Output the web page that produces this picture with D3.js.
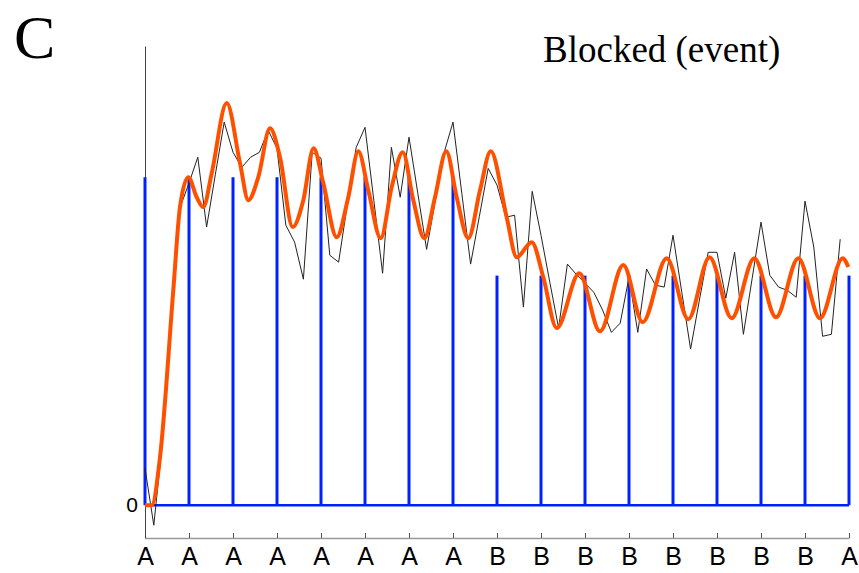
<!DOCTYPE html>
<html>
<head>
<meta charset="utf-8">
<script src="https://cdn.jsdelivr.net/npm/d3@7"></script>
<style>
  body { margin: 0; background: #fff; }
  svg { display: block; }
</style>
</head>
<body>
<div id="chart"></div>
<script>
const width = 859;
const height = 573;

// trial labels along the x axis
const tickLabels = ["A", "A", "A", "A", "A", "A", "A", "A", "B", "B", "B", "B", "B", "B", "B", "B", "A"];
// event stems, one per trial
const stemValues = [1, 1, 1, 1, 1, 1, 1, 1, 0.7, 0.7, 0.7, 0.7, 0.7, 0.7, 0.7, 0.7, 0.7];
// raw response, 5 samples per trial
const rawValues = [
  0.113, -0.061, 0.198, 0.573, 0.909, 0.982, 1.061, 0.848, 1.009, 1.168,
  1.076, 1.030, 1.061, 1.076, 1.143, 1.088, 0.854, 0.802, 0.689, 1.076,
  1.058, 0.762, 0.741, 0.918, 1.091, 1.152, 0.930, 0.707, 1.091, 0.939,
  1.122, 0.951, 0.780, 0.930, 1.076, 1.168, 0.951, 0.735, 0.881, 1.027,
  0.976, 0.878, 0.884, 0.604, 0.957, 0.823, 0.680, 0.540, 0.735, 0.704,
  0.677, 0.649, 0.595, 0.527, 0.555, 0.695, 0.527, 0.720, 0.671, 0.665,
  0.823, 0.649, 0.476, 0.625, 0.771, 0.771, 0.631, 0.771, 0.521, 0.692,
  0.863, 0.701, 0.665, 0.655, 0.634, 0.927, 0.787, 0.515, 0.521, 0.811
];
// fitted (smooth) response: trial position and value
const fitT = [
  0, 0.152, 0.341, 0.643, 0.795, 0.984, 1.175, 1.325, 1.516, 1.857,
  2.159, 2.348, 2.575, 2.841, 3.068, 3.357, 3.598, 3.830, 4.052, 4.357,
  4.620, 4.848, 5.075, 5.357, 5.607, 5.857, 6.098, 6.348, 6.591, 6.848,
  7.084, 7.348, 7.614, 7.857, 8.220, 8.448, 8.789, 9.052, 9.357, 9.870,
  10.341, 10.870, 11.311, 11.857, 12.348, 12.830, 13.334, 13.848, 14.341, 14.848,
  15.341, 15.857, 15.984
];
const fitValues = [
  0, 0, 0.146, 0.655, 0.909, 1.0, 0.939, 0.909, 1.012, 1.226,
  1.043, 0.930, 1.0, 1.149, 1.061, 0.848, 0.930, 1.088, 0.982, 0.817,
  0.939, 1.079, 0.960, 0.814, 0.970, 1.076, 0.930, 0.814, 0.939, 1.079,
  0.939, 0.814, 0.960, 1.079, 0.878, 0.756, 0.802, 0.695, 0.540, 0.707,
  0.530, 0.732, 0.558, 0.753, 0.567, 0.756, 0.570, 0.753, 0.573, 0.753,
  0.570, 0.753, 0.726
];

const svg = d3.select("#chart")
  .append("svg")
  .attr("width", width)
  .attr("height", height);

const x = d3.scaleLinear().domain([0, 16]).range([145, 849]);
const y = d3.scaleLinear().domain([-0.1, 1.4]).range([538, 46]);

// Panel letter and title
svg.append("text")
  .attr("x", 14)
  .attr("y", 58)
  .style("font-family", "'Liberation Serif', 'Times New Roman', serif")
  .style("font-size", "62px")
  .text("C");

svg.append("text")
  .attr("x", 543)
  .attr("y", 62)
  .style("font-family", "'Liberation Serif', 'Times New Roman', serif")
  .style("font-size", "37px")
  .text("Blocked (event)");

// Bottom axis
const xAxis = svg.append("g")
  .attr("transform", `translate(0,${y(-0.1)})`)
  .call(d3.axisBottom(x)
    .tickValues(d3.range(tickLabels.length))
    .tickFormat((d, i) => tickLabels[i])
    .tickSizeInner(-5)
    .tickSizeOuter(0)
    .tickPadding(9));
xAxis.select(".domain").attr("stroke", "#999").attr("stroke-width", 1.5);
xAxis.selectAll(".tick line").attr("stroke", "#555");
xAxis.selectAll("text")
  .style("font-family", "'Liberation Sans', Arial, sans-serif")
  .style("font-size", "25px")
  .attr("fill", "#000");

// Left axis: just the line and the zero label
const yAxis = svg.append("g")
  .attr("transform", `translate(${x(0)},0)`)
  .call(d3.axisLeft(y).tickValues([0]).tickFormat(d3.format("d")).tickSize(0).tickPadding(7));
yAxis.select(".domain").attr("stroke", "#444").attr("stroke-width", 1);
yAxis.selectAll("text")
  .style("font-family", "'Liberation Sans', Arial, sans-serif")
  .style("font-size", "21px")
  .attr("fill", "#000");

// Event stems
svg.selectAll(".stem")
  .data(stemValues)
  .enter()
  .append("line")
  .attr("class", "stem")
  .attr("x1", (d, i) => x(i))
  .attr("x2", (d, i) => x(i))
  .attr("y1", y(0))
  .attr("y2", d => y(d))
  .attr("stroke", "#0022ff")
  .attr("stroke-width", 3);

// Baseline
svg.append("line")
  .attr("x1", x(0))
  .attr("x2", x(16))
  .attr("y1", y(0))
  .attr("y2", y(0))
  .attr("stroke", "#0022ff")
  .attr("stroke-width", 2.5);

// Raw response
const rawLine = d3.line()
  .x((d, i) => x(i / 5))
  .y(d => y(d));

svg.append("path")
  .datum(rawValues)
  .attr("d", rawLine)
  .attr("fill", "none")
  .attr("stroke", "#222")
  .attr("stroke-width", 1);

// Fitted response
const fitLine = d3.line()
  .x((d, i) => x(fitT[i]))
  .y(d => y(d))
  .curve(d3.curveMonotoneX);

svg.append("path")
  .datum(fitValues)
  .attr("d", fitLine)
  .attr("fill", "none")
  .attr("stroke", "#ff5000")
  .attr("stroke-width", 4)
  .attr("stroke-linejoin", "round");
</script>
</body>
</html>
